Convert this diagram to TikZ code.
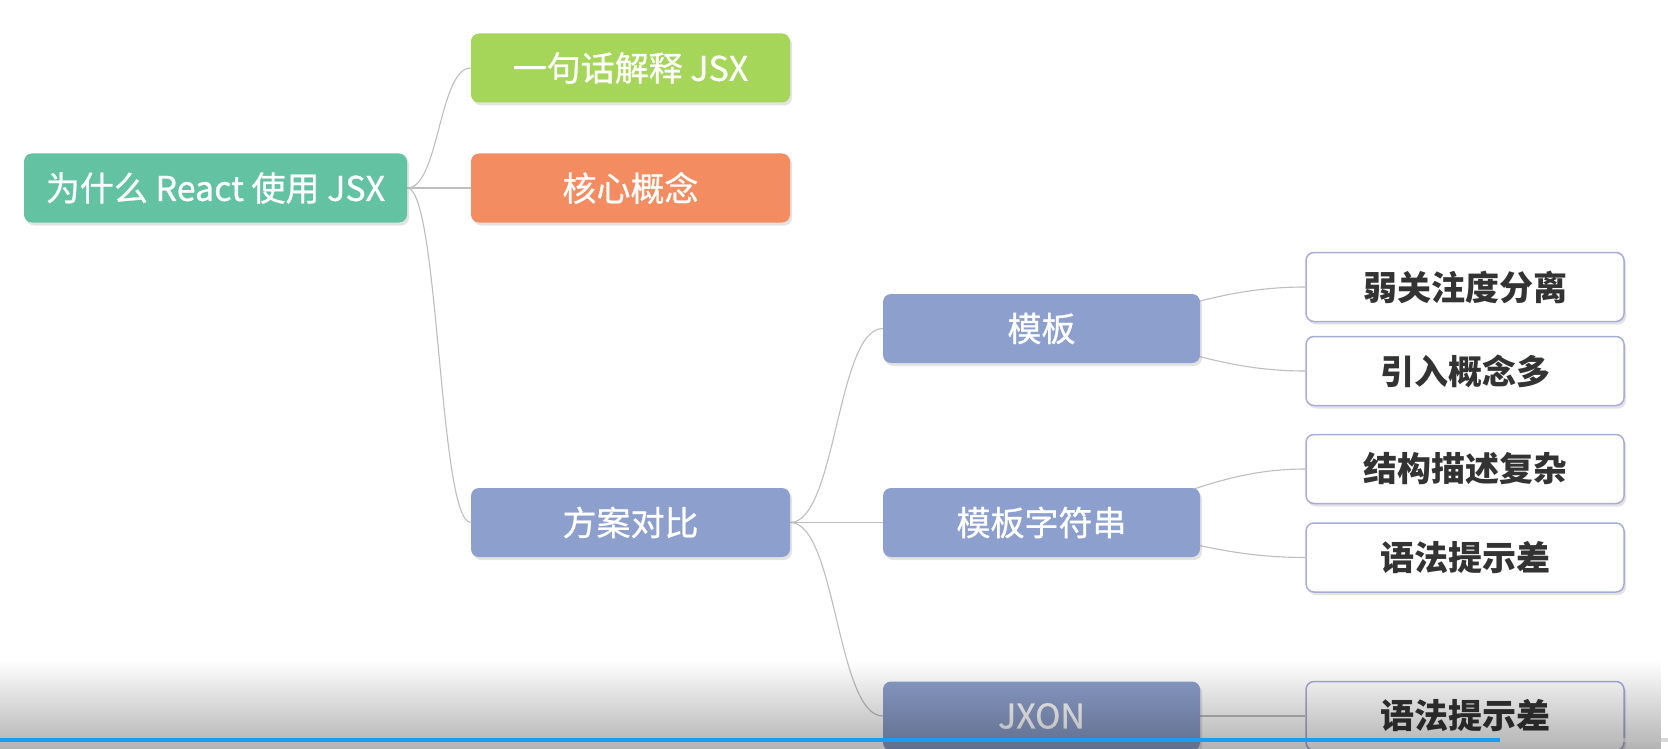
\documentclass[tikz,border=0pt]{standalone}
\usepackage{fontspec}
\setmainfont{Noto Sans CJK SC}
\newfontfamily\medfont{Noto Sans CJK SC}[FakeBold=0.8]
\usetikzlibrary{shadows,fadings}
\pgfdeclarelayer{canvas}
\pgfdeclarelayer{background}
\pgfsetlayers{canvas,background,main}
\definecolor{rootc}{RGB}{99,194,161}
\definecolor{greenc}{RGB}{165,214,90}
\definecolor{orangec}{RGB}{244,140,98}
\definecolor{bluec}{RGB}{141,159,204}
\definecolor{wborder}{RGB}{168,173,215}
\definecolor{textc}{RGB}{51,51,51}
\definecolor{linec}{RGB}{190,190,190}
\definecolor{progblue}{RGB}{24,158,240}
\tikzfading[name=fadeup, top color=transparent!100, bottom color=transparent!70]
\begin{document}
\begin{tikzpicture}[x=1pt,y=-1pt,
  box/.style={rounded corners=8pt, minimum height=69pt, inner sep=0pt,
    font=\medfont\fontsize{34}{40}\selectfont,
    drop shadow={shadow xshift=2pt, shadow yshift=-3pt, opacity=0.22}},
  colbox/.style={box, fill=#1, text=white, minimum width=319pt},
  wbox/.style={box, fill=white, draw=wborder, line width=1.5pt, text=textc,
    font=\fontsize{34}{40}\selectfont\bfseries, minimum width=318pt},
  link/.style={draw=linec, line width=1.1pt},
]
\begin{pgfonlayer}{canvas}
\fill[white] (0,0) rectangle (1668,749);
\end{pgfonlayer}
\useasboundingbox (0,0) rectangle (1668,749);

\node[colbox=rootc, minimum width=383pt] (root) at (215.5,188) {为什么 React 使用 JSX};
\node[colbox=greenc] (n1) at (630.5,68) {一句话解释 JSX};
\node[colbox=orangec] (n2) at (630.5,188) {核心概念};
\node[colbox=bluec] (n3) at (630.5,522.5) {方案对比};
\node[colbox=bluec, minimum width=317pt] (m1) at (1041.5,328.5) {模板};
\node[colbox=bluec, minimum width=317pt] (m2) at (1041.5,522.5) {模板字符串};
\node[colbox=bluec, minimum width=317pt] (m3) at (1041.5,716) {JXON};
\node[wbox] (w1) at (1465,287) {弱关注度分离};
\node[wbox] (w2) at (1465,371) {引入概念多};
\node[wbox] (w3) at (1465,469) {结构描述复杂};
\node[wbox] (w4) at (1465,557.5) {语法提示差};
\node[wbox] (w5) at (1465,716) {语法提示差};

\begin{pgfonlayer}{background}
\draw[link] (root.east) .. controls +(32,0) and +(-32,0) .. (n1.west);
\draw[link] (root.east) -- (n2.west);
\draw[link] (root.east) .. controls +(32,0) and +(-32,0) .. (n3.west);
\draw[link] (n3.east) .. controls +(46,0) and +(-46,0) .. (m1.west);
\draw[link] (n3.east) -- (m2.west);
\draw[link] (n3.east) .. controls +(46,0) and +(-46,0) .. (m3.west);
\draw[link] (m1.center) .. controls +(109,0) and +(-107,0) .. (w1.west);
\draw[link] (m1.center) .. controls +(109,0) and +(-107,0) .. (w2.west);
\draw[link] (m2.center) .. controls +(109,0) and +(-107,0) .. (w3.west);
\draw[link] (m2.center) .. controls +(109,0) and +(-107,0) .. (w4.west);
\draw[link] (m3.center) -- (w5.west);
\end{pgfonlayer}

\fill[black, path fading=fadeup] (0,660) rectangle (1668,749);
\fill[progblue] (0,738) rectangle (1500,742);
\fill[black!25, opacity=0.6] (1500,738) rectangle (1668,742);
\end{tikzpicture}
\end{document}
